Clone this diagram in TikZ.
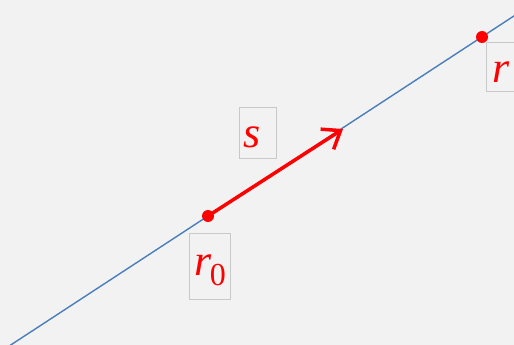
\documentclass[tikz,border=0pt]{standalone}
\usepackage{fontspec}
\setmainfont{Liberation Serif}
\usepackage{tikz}
\usetikzlibrary{arrows.meta,positioning,calc}
\definecolor{SlideGray}{RGB}{242,242,242}
\definecolor{LineBlue}{RGB}{74,126,187}
\definecolor{PointRed}{RGB}{255,0,0}
\definecolor{FrameGray}{RGB}{200,200,200}

\begin{document}
\begin{tikzpicture}[x=1pt,y=-1pt,
    dot/.style={circle, fill=PointRed, inner sep=0pt, minimum size=12pt},
    lblbox/.style={draw=FrameGray, line width=1pt, inner sep=0pt},
    sym/.style={text=PointRed, font=\fontsize{44}{44}\selectfont\itshape, inner sep=0pt, anchor=base west, xshift=5pt},
    vec/.style={-{Straight Barb[length=16pt,width=24pt]}, line width=3.5pt, draw=PointRed},
    track/.style={line width=1.4pt, draw=LineBlue}
  ]
  \fill[SlideGray] (0,0) rectangle (514,345);
  \useasboundingbox (0,0) rectangle (514,345);
  \clip (0,0) rectangle (514,345);
  % line through the two points
  \coordinate (lo) at (0,352);
  \coordinate (hi) at (520,12);
  \draw[track] (lo) -- (hi);
  % label frames
  \node[lblbox, minimum width=37pt, minimum height=51pt] (sbox) at (257.5,132.5) {};
  \node[lblbox, minimum width=41pt, minimum height=66pt] (rzbox) at (209.5,266) {};
  \node[lblbox, minimum width=37pt, minimum height=48pt] (rbox) at (504.5,67) {};
  % points and direction
  \node[dot] (rzero) at (208,216) {};
  \node[dot] (rpt) at (482,37) {};
  \coordinate (stip) at (343,129);
  \draw[vec] (rzero.center) -- (stip);
  % symbols
  \node[sym, yshift=11pt] (slbl) at (sbox.south west) {s};
  \node[sym, yshift=24pt, xshift=1pt] (rzlbl) at (rzbox.south west) {r\kern-2pt\raisebox{-10pt}{\fontsize{32}{32}\selectfont\upshape 0}};
  \node[sym, yshift=9pt, xshift=2pt] (rlbl) at (rbox.south west) {r};
\end{tikzpicture}
\end{document}
